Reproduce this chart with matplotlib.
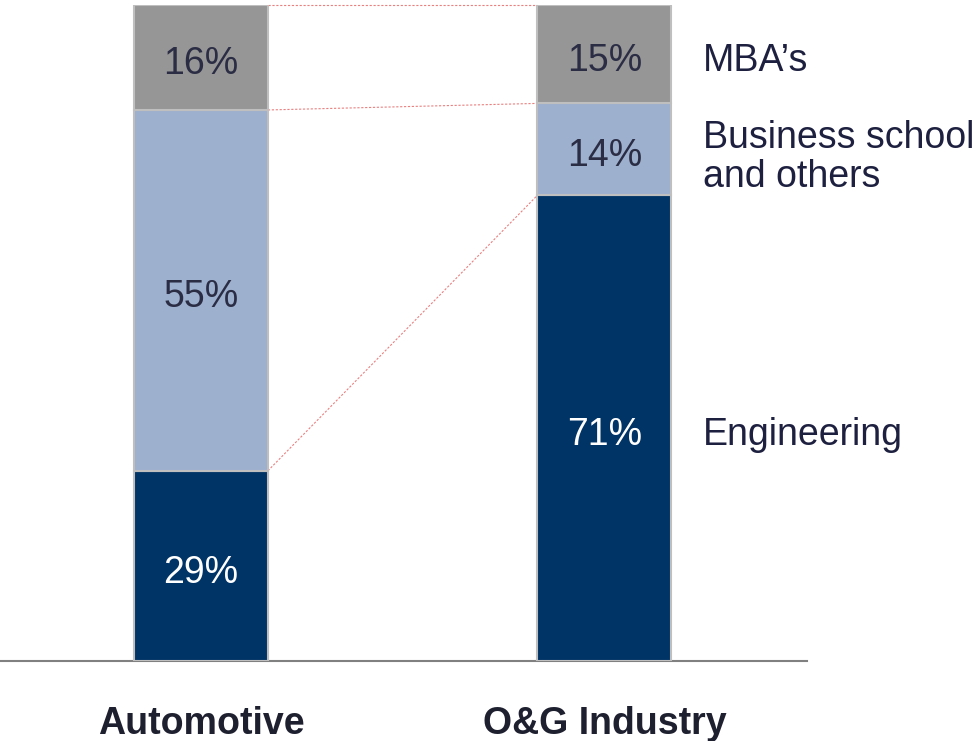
import matplotlib.pyplot as plt

plt.rcParams['font.family'] = ['Liberation Sans', 'DejaVu Sans']

categories = ['Automotive', 'O&G Industry']
segments = ['Engineering', 'Business school\nand others', "MBA\u2019s"]
engineering = [29, 71]
business = [55, 14]
mba = [16, 15]

colors = ['#003366', '#9DB0CE', '#969696']
label_colors = ['white', '#2B2D45', '#2B2D45']

fig = plt.figure(figsize=(9.75, 7.41), dpi=100)
ax = fig.add_axes([0, 80 / 741, 807 / 975, 656 / 741])

x = [0, 1]
width = 0.332
bottoms = [0, 0]
tops_list = []
for vals, col, tcol in zip([engineering, business, mba], colors, label_colors):
    ax.bar(x, vals, width, bottom=bottoms, color=col, edgecolor='#BFBFBF',
           linewidth=1.5, zorder=3)
    for xi, v, b in zip(x, vals, bottoms):
        ax.text(xi, b + v / 2 - 0.4, f'{v}%', ha='center', va='center_baseline',
                fontsize=27, color=tcol, zorder=4)
    bottoms = [b + v for b, v in zip(bottoms, vals)]
    tops_list.append(list(bottoms))

# connector lines between the two bars
for tops in tops_list:
    ax.plot([x[0] + width / 2, x[1] - width / 2], tops, color='#E98080',
            linestyle=(0, (2, 1.5)), linewidth=0.8, zorder=2, clip_on=False)

# segment labels at the right
label_y = [engineering[1] / 2, engineering[1] + business[1] / 2,
           engineering[1] + business[1] + mba[1] / 2]
for name, ly in zip(segments, label_y):
    ax.text(1.245, ly - 0.4, name, ha='left', va='center_baseline', fontsize=27,
            color='#1E2040', linespacing=1.12)

for xi, name in zip(x, categories):
    ax.text(xi, -9, name, ha='center', va='center_baseline', fontsize=27,
            fontweight='bold', color='#1E2030')

ax.set_xlim(-0.498, 1.502)
ax.set_ylim(0, 100)
for s in ['top', 'left', 'right']:
    ax.spines[s].set_visible(False)
ax.spines['bottom'].set_color('#808080')
ax.spines['bottom'].set_linewidth(1.5)
ax.set_xticks([])
ax.set_yticks([])

plt.savefig('out.png', dpi=100)
